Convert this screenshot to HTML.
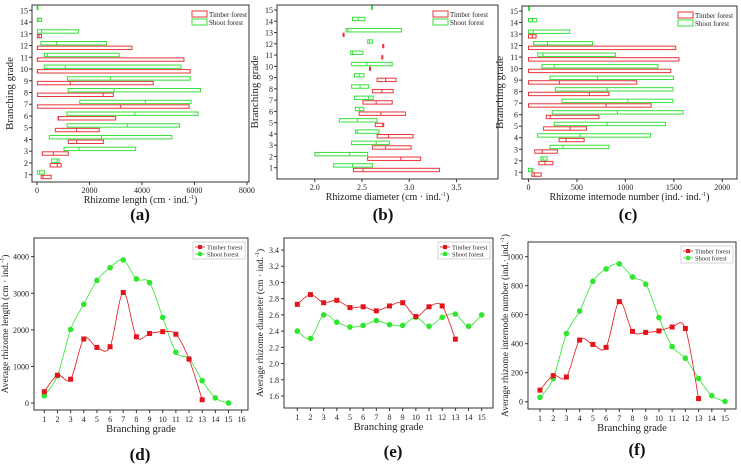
<!DOCTYPE html>
<html><head><meta charset="utf-8"><style>
html,body{margin:0;padding:0;background:#fff}
svg{display:block;font-family:"Liberation Serif",serif}
svg text{font-family:"Liberation Serif",serif}
</style></head><body>
<svg id="fig" width="741" height="465" viewBox="0 0 741 465" font-family="Liberation Serif, serif" xmlns="http://www.w3.org/2000/svg"></svg>
<script>
// ===== Panel (a) rhizome length ranges: [min, median, max] per grade 1..15
const aTimber = [[160,230,540],[500,770,920],[200,620,1190],[1190,1510,2530],[700,1510,2370],[800,820,3000],[15,3190,5800],[15,2520,2910],[15,1270,4430],[15,15,5840],[15,15,5600],[15,15,3620],[15,80,175],null,null];
const aShoot = [[15,100,280],[560,770,850],[1030,1600,3760],[470,2460,5140],[1150,3440,5430],[1140,3730,6140],[1630,4130,5870],[1190,2940,6230],[1160,2810,5840],[280,1080,5490],[280,390,3130],[150,750,2650],[15,175,1580],[15,70,175],[0,10,40]];
const aTicks = [0,2000,4000,6000,8000];
// ===== Panel (b) rhizome diameter ranges
const bTimber = [[2.41,2.51,3.32],[2.56,2.91,3.12],[2.61,2.75,3.02],[2.66,2.78,3.04],[2.64,2.72,2.73],[2.47,2.70,2.96],[2.51,2.65,2.82],[2.61,2.71,2.83],[2.66,2.75,2.86],[2.58,2.58,2.585],[2.71,2.71,2.715],[2.72,2.72,2.725],[2.30,2.30,2.305],null,null];
const bShoot = [[2.20,2.40,2.61],[2.00,2.37,2.56],[2.39,2.65,2.79],[2.43,2.45,2.68],[2.26,2.45,2.66],[2.43,2.47,2.52],[2.42,2.57,2.62],[2.39,2.48,2.57],[2.42,2.47,2.52],[2.39,2.55,2.82],[2.38,2.40,2.51],[2.56,2.58,2.61],[2.33,2.35,2.92],[2.40,2.46,2.53],[2.60,2.60,2.61]];
const bTicks = [2.0,2.5,3.0,3.5];
// ===== Panel (c) internode number ranges
const cTimber = [[35,60,131],[106,170,252],[64,142,298],[316,387,574],[156,429,599],[184,223,727],[0,801,1266],[0,628,830],[0,319,1117],[0,0,1468],[0,0,1553],[0,0,1520],[0,40,78],null,null];
const cShoot = [[0,30,46],[128,150,191],[223,355,830],[92,532,1259],[266,810,1415],[245,918,1596],[347,1025,1489],[277,812,1493],[223,713,1496],[138,266,1337],[96,150,897],[53,195,660],[0,50,425],[0,40,85],[0,5,10]];
const cTicks = [0,500,1000,1500,2000];
// ===== Panel (d) average rhizome length
const dTimber = [310,760,650,1750,1520,1540,3020,1810,1900,1950,1880,1200,90];
const dShoot = [200,750,2010,2700,3350,3700,3910,3390,3290,2340,1390,1210,610,140,0];
const dTicks = [0,1000,2000,3000,4000];
// ===== Panel (e) average rhizome diameter
const eTimber = [2.73,2.85,2.75,2.78,2.69,2.70,2.65,2.71,2.75,2.58,2.70,2.71,2.30];
const eShoot = [2.40,2.31,2.60,2.51,2.45,2.47,2.53,2.48,2.47,2.57,2.46,2.57,2.61,2.46,2.60];
const eTicks = [1.6,1.8,2.0,2.2,2.4,2.6,2.8,3.0,3.2,3.4];
// ===== Panel (f) average internode number
const fTimber = [80,180,170,425,395,375,690,485,478,488,515,505,22];
const fShoot = [30,160,470,625,830,915,950,860,810,580,380,300,160,42,2];
const fTicks = [0,200,400,600,800,1000];
const grades = [1,2,3,4,5,6,7,8,9,10,11,12,13,14,15];

const NS="http://www.w3.org/2000/svg";
const svg=document.getElementById('fig');
const RED="#e8353b", GREEN="#36e13a";
function el(tag,attrs,parent){const e=document.createElementNS(NS,tag);for(const k in attrs)e.setAttribute(k,attrs[k]);(parent||svg).appendChild(e);return e;}
function txt(s,attrs,parent){const t=el('text',attrs,parent);t.setAttribute('font-family','Liberation Serif, serif');t.textContent=s;return t;}
function lin(d0,d1,r0,r1){return v=>r0+(v-d0)*(r1-r0)/(d1-d0);}
function fmt(v,dec){return dec?v.toFixed(dec):String(v);}

function frame(g,L,T,R,B){
  const f=el('rect',{x:L,y:T,width:R-L,height:B-T,fill:'none',stroke:'#333','stroke-width':1},g);
  
  
}

function rangePanel(id,L,T,R,B,xd0,xd1,xTicks,dec,yTop,yBot,timber,shoot,xTitle,lab,labX,yTitleX,legX){
  const g=el('g',{});
  
  
  const x=lin(xd0,xd1,L,R), y=lin(15,1,yTop,yBot);
  frame(g,L,T,R,B);
  const xa=el('g',{},g);
  
  
  xTicks.forEach(v=>{
    el('line',{x1:x(v),x2:x(v),y1:B,y2:B+3,stroke:'#333'},xa);
    const t=txt(fmt(v,dec),{x:x(v),y:B+11,'font-size':8,'text-anchor':'middle',fill:'#222'},xa);
    
    
  });
  const ya=el('g',{},g);
  
  
  grades.forEach(v=>{
    el('line',{x1:L,x2:L-3,y1:y(v),y2:y(v),stroke:'#333'},ya);
    const t=txt(String(v),{x:L-4,y:y(v)+3,'font-size':8,'text-anchor':'end',fill:'#222'},ya);
    
    
  });
  function box(d,i,color,off,name){
    if(!d)return;
    const yc=y(grades[i]);
    const r=el('rect',{x:x(d[0]),y:yc+off,width:Math.max(1,x(d[2])-x(d[0])),height:3.4,fill:'none',stroke:color,'stroke-width':1},g);
    
    
    el('line',{x1:x(d[1]),x2:x(d[1]),y1:yc+off,y2:yc+off+3.4,stroke:color,'stroke-width':1},g);
  }
  shoot.forEach((d,i)=>box(d,i,GREEN,-4,'shoot'));
  timber.forEach((d,i)=>box(d,i,RED,0.6,'timber'));
  const xt=txt('',{x:(L+R)/2,y:B+21,'font-size':10,'text-anchor':'middle',fill:'#222'},g);
  xt.innerHTML=xTitle;
  
  
  const yt=txt('Branching grade',{x:yTitleX,y:(T+B)/2,'font-size':11,'text-anchor':'middle',fill:'#222',transform:`rotate(-90 ${yTitleX} ${(T+B)/2})`},g);
  
  
  const lg=el('g',{},g);
  
  
  el('rect',{x:legX,y:T+6,width:15,height:6,fill:'none',stroke:RED},lg);
  el('rect',{x:legX,y:T+14,width:15,height:6,fill:'none',stroke:GREEN},lg);
  const l1=txt('Timber forest',{x:legX+17,y:T+12,'font-size':7,fill:'#222'},lg);
  
  
  const l2=txt('Shoot forest',{x:legX+17,y:T+20,'font-size':7,fill:'#222'},lg);
  
  
  const pl=txt(lab,{x:labX,y:220,'font-size':17,'font-weight':'bold','text-anchor':'middle',fill:'#111'},g);
  
  
}

function smoothPath(pts){
  if(pts.length<2)return '';
  let d=`M${pts[0][0]},${pts[0][1]}`;
  for(let i=0;i<pts.length-1;i++){
    const p0=pts[i-1]||pts[i],p1=pts[i],p2=pts[i+1],p3=pts[i+2]||p2;
    const c1=[p1[0]+(p2[0]-p0[0])/6,p1[1]+(p2[1]-p0[1])/6];
    const c2=[p2[0]-(p3[0]-p1[0])/6,p2[1]-(p3[1]-p1[1])/6];
    d+=` C${c1[0]},${c1[1]} ${c2[0]},${c2[1]} ${p2[0]},${p2[1]}`;
  }
  return d;
}
function linePanel(id,L,T,R,B,x1px,x15px,nX,yd0,yd1,yTicks,dec,timber,shoot,yTitle,lab,labX,labY,yTitleX){
  const g=el('g',{});
  
  
  const x=lin(1,15,x1px,x15px), y=lin(yd0,yd1,B,T);
  frame(g,L,T,R,B);
  const xa=el('g',{},g);
  
  
  for(let v=1;v<=nX;v++){
    el('line',{x1:x(v),x2:x(v),y1:B,y2:B+3,stroke:'#333'},xa);
    const t=txt(String(v),{x:x(v),y:B+12,'font-size':8,'text-anchor':'middle',fill:'#222'},xa);
    
    
  }
  const ya=el('g',{},g);
  
  
  yTicks.forEach(v=>{
    el('line',{x1:L,x2:L-3,y1:y(v),y2:y(v),stroke:'#333'},ya);
    const t=txt(fmt(v,dec),{x:L-5,y:y(v)+3,'font-size':8,'text-anchor':'end',fill:'#222'},ya);
    
    
  });
  function series(vals,color,name,shape){
    const pts=vals.map((v,i)=>[x(grades[i]),y(v)]);
    const p=el('path',{d:smoothPath(pts),fill:'none',stroke:color,'stroke-width':0.8},g);
    
    
    pts.forEach((pt,i)=>{
      let m;
      if(shape==='sq') m=el('rect',{x:pt[0]-2.5,y:pt[1]-2.5,width:5,height:5,fill:color},g);
      else m=el('circle',{cx:pt[0],cy:pt[1],r:2.8,fill:color},g);
      
      
    });
  }
  series(shoot,'#2fe62f','shoot','ci');
  series(timber,'#e3141b','timber','sq');
  const xt=txt('Branching grade',{x:(L+R)/2,y:B+22,'font-size':10.5,'text-anchor':'middle',fill:'#222'},g);
  
  
  const yc=(T+B)/2;
  const yt=txt('',{x:yTitleX,y:yc,'font-size':9.5,'text-anchor':'middle',fill:'#222',transform:`rotate(-90 ${yTitleX} ${yc})`},g);
  yt.innerHTML=yTitle;
  
  
  const lg=el('g',{},g);
  
  
  const lx=R-55, ly=T+4;
  el('rect',{x:lx,y:ly,width:52,height:17,fill:'#fff',stroke:'#bbb','stroke-width':0.6},lg);
  el('line',{x1:lx+2,x2:lx+12,y1:ly+5,y2:ly+5,stroke:'#e3141b','stroke-width':0.8},lg);
  el('rect',{x:lx+5,y:ly+3,width:4,height:4,fill:'#e3141b'},lg);
  el('line',{x1:lx+2,x2:lx+12,y1:ly+12,y2:ly+12,stroke:'#2fe62f','stroke-width':0.8},lg);
  el('circle',{cx:lx+7,cy:ly+12,r:2.3,fill:'#2fe62f'},lg);
  const l1=txt('Timber forest',{x:lx+14,y:ly+7.5,'font-size':6.5,fill:'#222'},lg);
  
  
  const l2=txt('Shoot forest',{x:lx+14,y:ly+14.5,'font-size':6.5,fill:'#222'},lg);
  
  
  const pl=txt(lab,{x:labX,y:labY,'font-size':17,'font-weight':'bold','text-anchor':'middle',fill:'#111'},g);
  
  
}

rangePanel('a',32,5,249,182,-190,8080,aTicks,0,10.3,174.7,aTimber,aShoot,'Rhizome length  (cm · ind.<tspan font-size="6" dy="-4">-1</tspan><tspan dy="4">)</tspan>','(a)',140,13,192);
rangePanel('b',277,5,498,179,1.6,3.94,bTicks,1,10,167.7,bTimber,bShoot,'Rhizome diameter (cm · ind.<tspan font-size="6" dy="-4">-1</tspan><tspan dy="4">)</tspan>','(b)',383,258,433);
rangePanel('c',522,6,737,179,-67,2152,cTicks,0,11,172.3,cTimber,cShoot,'Rhizome internode number (ind.· ind.<tspan font-size="6" dy="-4">-1</tspan><tspan dy="4">)</tspan>','(c)',628,503,678);

linePanel('d',34,238,248,410,44.3,228.5,16,-190,4510,dTicks,0,dTimber,dShoot,'Average rhizome length  (cm · ind.<tspan font-size="6" dy="-4">-1</tspan><tspan dy="4">)</tspan>','(d)',140,460,8);
linePanel('e',284,238,493,408,297.3,481.7,15,1.452,3.548,eTicks,1,eTimber,eShoot,'Average rhizome diameter (cm · ind.<tspan font-size="6" dy="-4">-1</tspan><tspan dy="4">)</tspan>','(e)',393,457,263);
linePanel('f',528,242,736,409,540,725,15,-50,1101,fTicks,0,fTimber,fShoot,'Average rhizome internode number (ind.· ind.<tspan font-size="6" dy="-4">-1</tspan><tspan dy="4">)</tspan>','(f)',637,455,508);
</script>
</body></html>
